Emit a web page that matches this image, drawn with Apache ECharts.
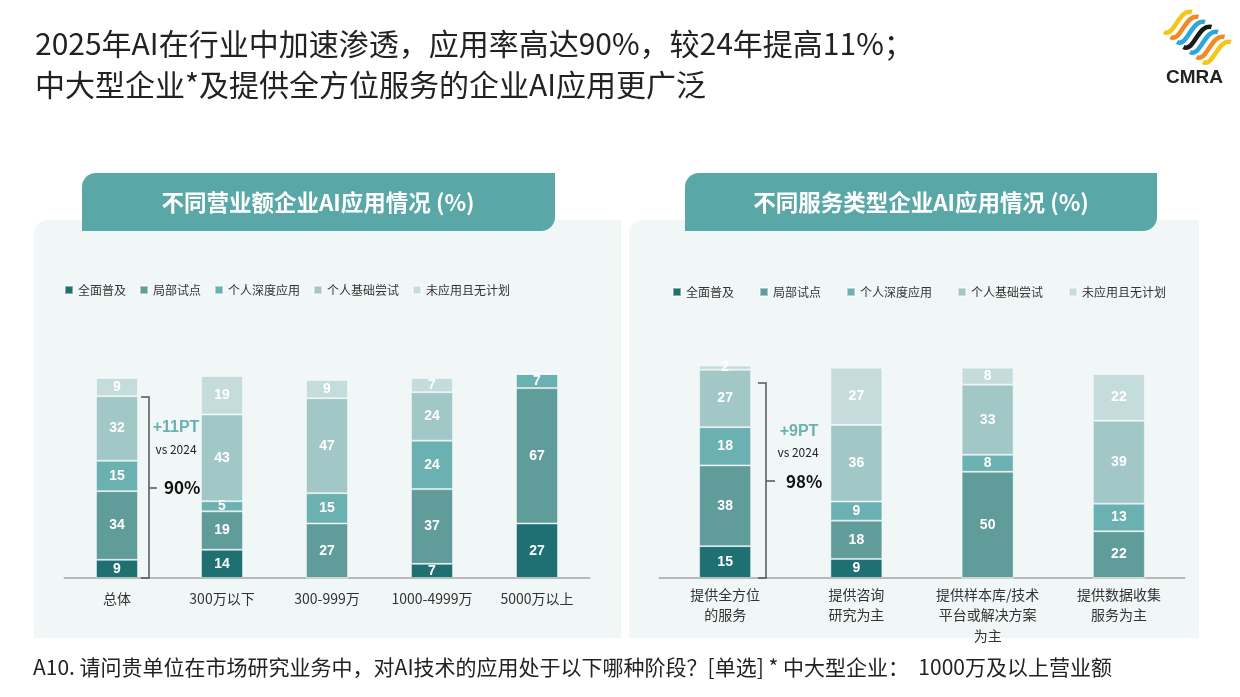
<!DOCTYPE html>
<html><head><meta charset="utf-8">
<script src="https://cdn.jsdelivr.net/npm/echarts@6/dist/echarts.min.js"></script>
<style>html,body{margin:0;padding:0;background:#fff}#c{width:1240px;height:697px}</style>
</head><body><div id="c"></div>
<script>
const stages = ['全面普及','局部试点','个人深度应用','个人基础尝试','未应用且无计划'];
const colors = ['#1e7073','#609c9a','#6cb1b1','#a2c7c7','#c5dcdc'];

const leftCats = ['总体','300万以下','300-999万','1000-4999万','5000万以上'];
const left_full     = [9, 14, 0, 7, 27];
const left_pilot    = [34, 19, 27, 37, 67];
const left_deep     = [15, 5, 15, 24, 7];
const left_basic    = [32, 43, 47, 24, 0];
const left_none     = [9, 19, 9, 7, 0];

const rightCats = ['提供全方位\n的服务','提供咨询\n研究为主','提供样本库/技术\n平台或解决方案\n为主','提供数据收集\n服务为主'];
const right_full    = [15, 9, 0, 0];
const right_pilot   = [38, 18, 50, 22];
const right_deep    = [18, 9, 8, 13];
const right_basic   = [27, 36, 33, 39];
const right_none    = [2, 27, 8, 22];

const leftData = [left_full, left_pilot, left_deep, left_basic, left_none];
const rightData = [right_full, right_pilot, right_deep, right_basic, right_none];

const FONT = '"Noto Sans CJK SC", "Noto Sans", sans-serif';
const NUMFONT = '"Liberation Sans", Arial, sans-serif';

const chart = echarts.init(document.getElementById('c'), null, {renderer:'canvas'});

function mkSeries(dataSets, idx, bw) {
  return dataSets.map((d, i) => ({
    name: stages[i], type: 'bar', stack: 's' + idx,
    xAxisIndex: idx, yAxisIndex: idx, barWidth: bw, clip: false,
    data: d,
    itemStyle: {color: colors[i], borderColor: 'rgba(255,255,255,0.45)', borderWidth: 1},
    label: {show: true, position: 'inside', color: '#fff', fontWeight: 'bold', fontSize: 14,
            fontFamily: NUMFONT, formatter: p => p.value ? String(p.value) : ''}
  }));
}

// logo stripes
const logoColors = ['#f5c518','#f08a24','#2aa7dd','#1a1a1a','#2aa7dd','#f08a24','#f5c518'];
const logoEls = logoColors.map((c, i) => {
  const x0 = 1164 + i * 6.5, y0 = 32 + i * 5;
  return {type:'bezierCurve', z: 20, shape:{x1:x0, y1:y0, x2:x0+28, y2:y0-20, cpx1:x0+10, cpy1:y0+6, cpx2:x0+15, cpy2:y0-24},
          style:{stroke:c, lineWidth:4.5, fill:null}};
});

const bracketStyle = {stroke:'#555', lineWidth:1.5, fill:null};

chart.setOption({
  animation: false,
  graphic: [
    {type:'text', left:35, top:29, style:{text:'2025年AI在行业中加速渗透，应用率高达90%，较24年提高11%；', font:'30px ' + FONT, fill:'#222'}},
    {type:'text', left:35, top:70, style:{text:'中大型企业*及提供全方位服务的企业AI应用更广泛', font:'30px ' + FONT, fill:'#222'}},
    ...logoEls,
    {type:'text', left:1166, top:68, z:20, style:{text:'CMRA', font:'bold 19px ' + NUMFONT, fill:'#222'}},
    {type:'rect', z:-2, shape:{x:34, y:220, width:587, height:418, r:[14,0,0,0]}, style:{fill:'#f1f7f7'}},
    {type:'rect', z:-2, shape:{x:629, y:220, width:570, height:418, r:[14,0,0,0]}, style:{fill:'#f1f7f7'}},
    {type:'rect', z:-1, shape:{x:82, y:173, width:473, height:58, r:[14,0,14,0]}, style:{fill:'#5aa7a7'}},
    {type:'rect', z:-1, shape:{x:685, y:173, width:472, height:58, r:[14,0,14,0]}, style:{fill:'#5aa7a7'}},
    {type:'text', z:5, x:318, y:202, style:{text:'不同营业额企业AI应用情况 (%)', font:'bold 22.5px ' + FONT, fill:'#fff', textAlign:'center', textVerticalAlign:'middle'}},
    {type:'text', z:5, x:921, y:202, style:{text:'不同服务类型企业AI应用情况 (%)', font:'bold 22.5px ' + FONT, fill:'#fff', textAlign:'center', textVerticalAlign:'middle'}},
    // left bracket
    {type:'polyline', z:10, shape:{points:[[141,397],[149,397],[149,578],[141,578]]}, style:bracketStyle},
    {type:'line', z:10, shape:{x1:149, y1:488, x2:157, y2:488}, style:bracketStyle},
    {type:'text', z:10, x:176, y:428, style:{text:'+11PT', font:'bold 16px ' + NUMFONT, fill:'#6cb1b1', textAlign:'center', textVerticalAlign:'middle'}},
    {type:'text', z:10, x:176, y:449, style:{text:'vs 2024', font:'12px ' + FONT, fill:'#222', textAlign:'center', textVerticalAlign:'middle'}},
    {type:'text', z:10, x:164, y:488, style:{text:'90%', font:'bold 17px ' + FONT, fill:'#111', textVerticalAlign:'middle'}},
    // right bracket
    {type:'polyline', z:10, shape:{points:[[758,383],[766,383],[766,578],[758,578]]}, style:bracketStyle},
    {type:'line', z:10, shape:{x1:766, y1:481, x2:775, y2:481}, style:bracketStyle},
    {type:'text', z:10, x:799, y:432, style:{text:'+9PT', font:'bold 16px ' + NUMFONT, fill:'#6cb1b1', textAlign:'center', textVerticalAlign:'middle'}},
    {type:'text', z:10, x:798, y:452, style:{text:'vs 2024', font:'12px ' + FONT, fill:'#222', textAlign:'center', textVerticalAlign:'middle'}},
    {type:'text', z:10, x:786, y:482, style:{text:'98%', font:'bold 17px ' + FONT, fill:'#111', textVerticalAlign:'middle'}},
    {type:'text', left:33, top:657, style:{text:'A10. 请问贵单位在市场研究业务中，对AI技术的应用处于以下哪种阶段？[单选] * 中大型企业：  1000万及以上营业额', font:'21px ' + FONT, fill:'#222'}}
  ],
  legend: [
    {data: stages, left:64, top:284, padding:0, icon:'rect', itemWidth:8, itemHeight:8, itemGap:13,
     textStyle:{fontSize:12, color:'#333', fontFamily:FONT}},
    {data: stages, left:672, top:286, padding:0, icon:'rect', itemWidth:8, itemHeight:8, itemGap:25,
     textStyle:{fontSize:12, color:'#333', fontFamily:FONT}}
  ],
  grid: [
    {left:64.5, top:376, width:525, height:202},
    {left:659.5, top:365.5, width:525, height:212.5}
  ],
  xAxis: [
    {type:'category', gridIndex:0, data:leftCats, axisTick:{show:false},
     axisLine:{lineStyle:{color:'#b8b8b8', width:2}},
     axisLabel:{interval:0, margin:14, fontSize:14, color:'#333', fontFamily:FONT}},
    {type:'category', gridIndex:1, data:rightCats, axisTick:{show:false},
     axisLine:{lineStyle:{color:'#b8b8b8', width:2}},
     axisLabel:{interval:0, margin:6, fontSize:14, lineHeight:20.5, color:'#333', fontFamily:FONT}}
  ],
  yAxis: [
    {type:'value', gridIndex:0, min:0, max:100, show:false},
    {type:'value', gridIndex:1, min:0, max:100, show:false}
  ],
  series: [...mkSeries(leftData, 0, 42), ...mkSeries(rightData, 1, 52)]
});
</script></body></html>
